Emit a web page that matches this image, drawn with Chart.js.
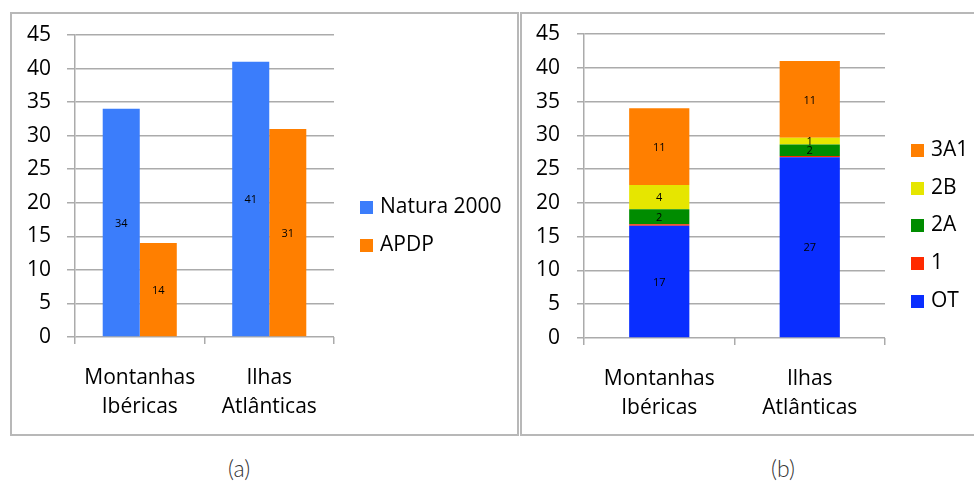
<!DOCTYPE html>
<html lang="pt">
<head>
    <meta charset="UTF-8">
    <title>Natura 2000 / APDP</title>
    <script src="https://cdn.jsdelivr.net/npm/chart.js"></script>
    <style>
        body {
            margin: 0;
            background: #fff;
            font-family: "Open Sans", sans-serif;
        }
        #page {
            position: relative;
            width: 974px;
            height: 484px;
            overflow: hidden;
        }
        .panel {
            position: absolute;
            top: 12px;
            height: 420px;
            border: 2px solid #b8b8b8;
        }
        #panelA { left: 10px; width: 505px; }
        #panelB { left: 520px; width: 470px; }
        canvas { position: absolute; }
        .legend {
            position: absolute;
            font-size: 21px;
            color: #000;
        }
        .legend .item {
            position: absolute;
            left: 0;
            white-space: nowrap;
            line-height: 26px;
        }
        .legend .box {
            display: inline-block;
            width: 13px;
            height: 13px;
            margin-right: 7px;
            vertical-align: -1px;
        }
        .caption {
            position: absolute;
            top: 454px;
            font-family: Lato, sans-serif;
            font-weight: 300;
            font-size: 23px;
            color: #333;
        }
    </style>
</head>
<body>
<div id="page">
    <div class="panel" id="panelA"></div>
    <div class="panel" id="panelB"></div>
    <canvas id="chartA" width="505" height="420" style="left:12px; top:14px;"></canvas>
    <canvas id="chartB" width="452" height="420" style="left:522px; top:14px;"></canvas>
    <div class="legend" id="legendA" style="left:360px; top:192px;"></div>
    <div class="legend" id="legendB" style="left:911px; top:135px;"></div>
    <div class="caption" style="left:228px;">(a)</div>
    <div class="caption" style="left:771px;">(b)</div>
</div>

<script>
    // categorias
    const regioes = [['Montanhas', 'Ibéricas'], ['Ilhas', 'Atlânticas']];

    // grafico (a)
    const natura2000 = [34, 41];
    const apdp = [14, 31];

    // grafico (b) - valores empilhados
    const classeOT = [16.6, 26.75];
    const classe1 = [0.25, 0.2];
    const classe2A = [2.2, 1.7];
    const classe2B = [3.6, 1.0];
    const classe3A1 = [11.35, 11.35];

    const yTicks = [0, 5, 10, 15, 20, 25, 30, 35, 40, 45];

    const gridColor = '#ababab';
    const tickFont = { family: 'Open Sans', size: 21 };

    // escreve o valor no meio de cada barra
    const barLabels = {
        id: 'barLabels',
        afterDatasetsDraw(chart) {
            const ctx = chart.ctx;
            ctx.save();
            ctx.font = '11px "Open Sans"';
            ctx.fillStyle = '#000';
            ctx.textAlign = 'center';
            ctx.textBaseline = 'middle';
            chart.data.datasets.forEach((ds, i) => {
                chart.getDatasetMeta(i).data.forEach((bar, j) => {
                    const v = Math.round(ds.data[j]);
                    if (v < 1) return;
                    const p = bar.getProps(['x', 'y', 'base'], true);
                    ctx.fillText(v, p.x, (p.y + p.base) / 2 + 1);
                });
            });
            ctx.restore();
        }
    };

    function makeScales(yWidth, xHeight, yPad, yTickLen) {
        return {
            x: {
                stacked: true,
                grid: {
                    offset: true,
                    drawOnChartArea: false,
                    drawTicks: true,
                    tickLength: 7,
                    color: gridColor,
                    lineWidth: 1.5
                },
                border: { display: false },
                ticks: {
                    font: { family: 'Open Sans', size: 21, lineHeight: 1.4 },
                    color: '#000',
                    padding: 19,
                    maxRotation: 0
                },
                afterFit: s => {
                    s.height = xHeight;
                    s.paddingLeft = 0;
                    s.paddingRight = 0;
                }
            },
            y: {
                min: 0,
                max: 45,
                afterBuildTicks: s => { s.ticks = yTicks.map(v => ({ value: v })); },
                grid: {
                    color: gridColor,
                    lineWidth: 1.5,
                    tickLength: yTickLen
                },
                border: { color: gridColor, width: 1.5 },
                ticks: {
                    font: tickFont,
                    color: '#000',
                    padding: yPad
                },
                afterFit: s => {
                    s.width = yWidth;
                    s.paddingTop = 0;
                    s.paddingBottom = 0;
                }
            }
        };
    }

    function makeLegend(chart, el, spacing, reverse) {
        let items = chart.data.datasets.map(ds => ({ label: ds.label, color: ds.backgroundColor }));
        if (reverse) items = items.reverse();
        items.forEach((it, i) => {
            const d = document.createElement('div');
            d.className = 'item';
            d.style.top = (i * spacing) + 'px';
            d.innerHTML = '<span class="box" style="background:' + it.color + '"></span>' + it.label;
            el.appendChild(d);
        });
    }

    const scalesA = makeScales(63, 97, 16, 8);
    scalesA.x.stacked = false;
    scalesA.y.stacked = false;

    const chartA = new Chart(document.getElementById('chartA'), {
        type: 'bar',
        data: {
            labels: regioes,
            datasets: [
                { label: 'Natura 2000', data: natura2000, backgroundColor: '#3b7dfb' },
                { label: 'APDP', data: apdp, backgroundColor: '#ff7f00' }
            ]
        },
        options: {
            responsive: false,
            animation: false,
            layout: { padding: { top: 21, right: 183, bottom: 0, left: 0 } },
            datasets: { bar: { categoryPercentage: 0.572, barPercentage: 1.0 } },
            plugins: { legend: { display: false }, tooltip: { enabled: false } },
            scales: scalesA
        },
        plugins: [barLabels]
    });

    const scalesB = makeScales(62, 96, 17, 7);
    scalesB.y.stacked = true;

    const chartB = new Chart(document.getElementById('chartB'), {
        type: 'bar',
        data: {
            labels: regioes,
            datasets: [
                { label: 'OT', data: classeOT, backgroundColor: '#0a2eff' },
                { label: '1', data: classe1, backgroundColor: '#ff2a00' },
                { label: '2A', data: classe2A, backgroundColor: '#008c00' },
                { label: '2B', data: classe2B, backgroundColor: '#e6e600' },
                { label: '3A1', data: classe3A1, backgroundColor: '#ff7f00' }
            ]
        },
        options: {
            responsive: false,
            animation: false,
            layout: { padding: { top: 20, right: 89, bottom: 0, left: 0 } },
            datasets: { bar: { categoryPercentage: 0.4, barPercentage: 1.0 } },
            plugins: { legend: { display: false }, tooltip: { enabled: false } },
            scales: scalesB
        },
        plugins: [barLabels]
    });

    makeLegend(chartA, document.getElementById('legendA'), 38, false);
    makeLegend(chartB, document.getElementById('legendB'), 37.7, true);
</script>
</body>
</html>
